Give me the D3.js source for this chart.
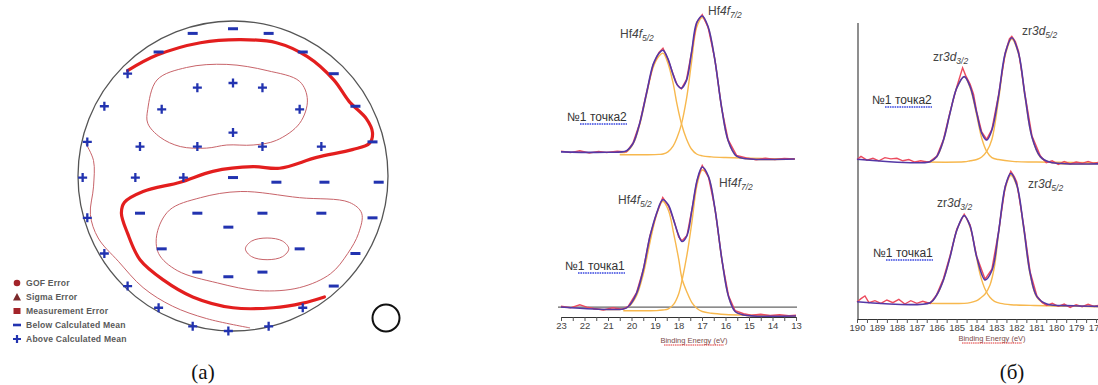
<!DOCTYPE html>
<html>
<head>
<meta charset="utf-8">
<script src="https://cdn.jsdelivr.net/npm/d3@7"></script>
<style>
  body { margin: 0; background: #fff; }
  svg { display: block; font-family: "Liberation Sans", Arial, sans-serif; }
</style>
</head>
<body>
<svg id="chart" width="1098" height="385"></svg>
<script>
// ---------- wafer map (a), coordinates in mm on a 200 mm wafer ----------
const belowMean = [[-26,92],[0,95],[23,92],[-48,80],[45,80],[65,66],[79,45],[90,22],
  [0,-1],[28,-4],[59,-4],[94,-4],[-60,-24],[-23,-24],[19,-24],[57,-24],[90,-27],
  [-3,-33],[-46,-47],[43,-47],[79,-50],[-23,-62],[-3,-65],[19,-62],[65,-71]];
const aboveMean = [[-68,66],[-23,57],[0,60],[19,57],[-83,45],[-46,43],[43,43],[0,28],
  [-94,22],[-60,19],[-23,19],[19,19],[57,19],[-97,-1],[-63,-1],[-32,-1],[-94,-27],
  [-83,-50],[-68,-71],[-48,-85],[45,-85],[-26,-97],[-3,-100],[23,-97]];
const meanContour = [[-68,68],[-49,78],[-21,86],[5,88],[28,86],[48,77],[65,62],[75,48],
  [86,37],[90,28],[88,21],[77,17],[54,12],[30,5],[13,6],[-13,3],[-34,-4],[-58,-10],
  [-70,-17],[-72,-24],[-68,-37],[-60,-54],[-45,-67],[-26,-78],[0,-85],[26,-85],[45,-82],[59,-78]];
const upperLoop = [[-55,43],[-49,62],[-30,70],[-4,72],[22,68],[43,61],[48,49],[43,34],
  [28,23],[13,20],[-4,20],[-17,18],[-34,19],[-47,25],[-55,34]];
const lowerLoop = [[5,-10],[43,-14],[75,-17],[83,-24],[81,-37],[74,-50],[63,-63],[43,-72],
  [17,-74],[-10,-69],[-36,-61],[-48,-50],[-49,-37],[-41,-22],[-21,-14]];
const innerLoop = [[8,-47],[12,-42],[22,-40],[32,-42],[36,-47],[32,-52],[22,-54],[12,-52]];
const edgeContour = [[-95,21],[-90,10],[-90,-7],[-92,-25],[-87,-40],[-74,-55],[-58,-72],
  [-39,-84],[-17,-92],[11,-98]];
const legendItems = ["GOF Error", "Sigma Error", "Measurement Error", "Below Calculated Mean", "Above Calculated Mean"];

// ---------- XPS spectra (b): binding energy (eV) and relative intensity ----------
// Hf 4f, point 2 (upper)
const hfUpE = [23.0,21.06,20.21,19.93,19.65,19.36,19.08,18.83,18.66,18.45,18.23,18.06,17.88,17.66,17.45,17.23,16.99,16.74,16.45,16.17,15.89,15.53,15.11,13.05];
const hfUpFit = [5,4.7,5.8,11,25,46,66,74,76,70,59,52,49.5,55,74,95,100,92.5,69,36.6,13,2,0.2,0];
const hfUpMeasE = [23.0,22.6,22.2,21.8,21.4,21.06,20.6,20.21,19.93,19.65,19.36,19.08,18.83,18.66,18.45,18.23,18.06,17.88,17.66,17.45,17.23,16.99,16.74,16.45,16.17,15.89,15.53,15.11,14.7,14.3,13.9,13.5,13.05];
const hfUpMeas = [5.5,4.5,5.8,4.2,5.3,4.5,5.5,5,11.5,25,46.5,66,74.5,77.5,70,59.5,52,49,55.5,74,95.5,101,92,69.5,36,13.5,2.5,0.8,-0.5,0.6,-0.3,0.4,0];
const hfUpC1E = [20.5,20.21,19.93,19.65,19.36,19.08,18.83,18.66,18.45,18.23,18.06,17.88,17.66,17.45,17.23,16.99,16.6,16.0,15.0,13.05];
const hfUpC1 = [4.5,5,10.5,24,45,64,72,74,67,53,38,25,14,7,3.5,2.2,1.5,1,0.5,0];
const hfUpC2E = [20.5,19.36,18.83,18.66,18.45,18.23,18.06,17.88,17.66,17.45,17.23,16.99,16.74,16.45,16.17,15.89,15.53,15.11,13.05];
const hfUpC2 = [3,3,3.2,3.5,5,9,15,24,42,67,92,99,92,69,36.6,13,2,0.2,0];

// Hf 4f, point 1 (lower)
const hfLowE = [23.0,21.63,20.35,20.14,19.79,19.5,19.22,18.93,18.67,18.43,18.2,17.99,17.85,17.64,17.43,17.21,16.99,16.72,16.44,16.15,15.87,15.59,15.23,13.0];
const hfLowFit = [6,4.7,4.7,6.2,15,31,53,69,78,74.5,64,54,50,54,71,91,100,93.5,71,37.6,13,3,0.7,0];
const hfLowMeasE = [23.0,22.6,22.2,21.9,21.6,21.2,20.8,20.4,20.14,19.79,19.5,19.22,18.93,18.67,18.43,18.2,17.99,17.85,17.64,17.43,17.21,16.99,16.72,16.44,16.15,15.87,15.59,15.23,14.9,14.5,14.1,13.7,13.3,13.0];
const hfLowMeas = [6.5,5.5,7.5,6,5,4,5.5,4.5,6.5,15.5,31,53.5,69,79.5,74,64.5,53,50.5,54,71.5,91,101,93,71.5,37,13.5,3.5,1.5,0.5,1.2,0.3,0.8,0.2,0.5];
const hfLowC1E = [21.63,20.35,20.14,19.79,19.5,19.22,18.93,18.67,18.43,18.2,17.99,17.85,17.64,17.43,17.21,16.99,16.6,16.0,15.0,13.0];
const hfLowC1 = [4.7,4.7,6,13.5,28,49,68,77,71,55,38,25,16,9,5,3,1.8,1,0.5,0];
const hfLowC2E = [20.35,19.5,18.93,18.67,18.43,18.2,17.99,17.85,17.64,17.43,17.21,16.99,16.72,16.44,16.15,15.87,15.59,15.23,13.0];
const hfLowC2 = [3.5,3.5,3.6,4,4.8,8,15,24,41,63,88,98,93,70.5,37.5,13,3,0.7,0];
const hfBaseLevel = 6;

// Zr 3d, point 2 (upper)
const zrUpE = [190,186.33,186.0,185.66,185.33,184.99,184.62,184.32,183.99,183.74,183.49,183.23,182.9,182.56,182.23,181.89,181.56,181.22,180.8,180.3,177.0];
const zrUpFit = [3.2,1.3,5.3,18.5,40,60,69,61,40,24,18.5,26.5,53,87.6,100,87.6,53,21,5.3,0.8,0];
const zrUpMeasE = [190,189.8,189.5,189.2,188.9,188.6,188.3,188.0,187.7,187.4,187.1,186.8,186.5,186.33,186.0,185.66,185.33,184.99,184.7,184.55,184.32,184.15,183.99,183.74,183.49,183.23,182.9,182.56,182.35,182.23,182.05,181.89,181.56,181.22,180.8,180.5,180.2,179.9,179.6,179.3,179.0,178.7,178.4,178.1,177.8,177.5,177.2];
const zrUpMeas = [3,5.5,2.5,4,2,4.5,3.5,4,2,3,1,2,1,1.5,5.5,19,41,61,76,70,63,55,41,25,19,27,54,88,99,101,97,89,54,22,6,0.5,2,-1,1.5,-0.5,1,0,1.5,0,1,0.5,0.8];
const zrUpC1E = [186.6,186.33,186.0,185.66,185.33,184.99,184.62,184.32,183.99,183.74,183.49,183.23,182.9,182.2,181.0,177.0];
const zrUpC1 = [1.5,1.5,5,18,40,60,69,60,38,20,9.5,4.5,3,1.5,1,0.3];
const zrUpC2E = [186.6,184.62,184.32,183.99,183.74,183.49,183.23,182.9,182.56,182.23,181.89,181.56,181.22,180.8,180.3,177.0];
const zrUpC2 = [1,1.2,2,3,5,9.5,19,50,86,99,87,52,21,5,0.8,0];

// Zr 3d, point 1 (lower)
const zrLowE = [190,186.33,186.0,185.66,185.33,184.99,184.62,184.32,183.99,183.57,183.23,182.9,182.56,182.28,181.98,181.64,181.31,180.97,180.47,179.13,177.0];
const zrLowFit = [3.7,3,8.7,20,37,57,68,60,37,20,27,55,89.5,99.5,91,60,25,7.5,2,0.7,0];
const zrLowMeasE = [190,189.8,189.6,189.4,189.1,188.8,188.5,188.2,187.9,187.6,187.3,187.0,186.7,186.33,186.0,185.66,185.33,184.99,184.62,184.32,183.99,183.57,183.23,182.9,182.56,182.28,182.1,181.98,181.64,181.31,180.97,180.7,180.47,180.2,179.9,179.6,179.3,179.0,178.7,178.4,178.1,177.8,177.5,177.2];
const zrLowMeas = [3.5,6,8,3,4.5,2.5,5,3,5.5,2,4.5,2.5,4,2.5,9,21,38,58,69,61,37.5,20.5,28,55.5,90,101,97,93,61,26,8,3,1,2.5,0.3,2,-0.5,1.5,0,1.8,0.2,1.2,0,1];
const zrLowC1E = [186.6,186.33,186.0,185.66,185.33,184.99,184.62,184.32,183.99,183.8,183.57,183.33,183.1,182.8,182.28,181.3,180.0,177.0];
const zrLowC1 = [3,3,8.5,20,37,57,68,59,36,23,13,7,4,2.5,1.5,1,0.5,0];
const zrLowC2E = [186.6,184.62,184.32,183.99,183.8,183.57,183.33,183.1,182.9,182.56,182.28,181.98,181.64,181.31,180.97,180.47,179.13,177.0];
const zrLowC2 = [2.5,2.5,3,4.5,6.5,9.5,16,30,54,88,98,90,59,24,7,1.5,0.5,0];

const hfTicks = d3.range(23, 12.9, -0.5);
const zrTicks = d3.range(190, 176.9, -0.5);

const svg = d3.select("#chart");
svg.append("rect").attr("width", 1098).attr("height", 385).attr("fill", "#fff");

// ================= wafer map =================
const wx = d3.scaleLinear().domain([-100, 100]).range([78, 388]);
const wy = d3.scaleLinear().domain([-100, 100]).range([331, 21]);
const wafer = svg.append("g");

wafer.append("circle")
  .attr("cx", wx(0)).attr("cy", wy(0)).attr("r", wx(100) - wx(0))
  .attr("fill", "none").attr("stroke", "#555").attr("stroke-width", 1.3);

const waferLine = d3.line().x(d => wx(d[0])).y(d => wy(d[1]));

wafer.append("path").datum(edgeContour)
  .attr("d", waferLine.curve(d3.curveCatmullRom)(edgeContour))
  .attr("fill", "none").attr("stroke", "#c8646a").attr("stroke-width", 1);

[upperLoop, lowerLoop, innerLoop].forEach(function(loop) {
  wafer.append("path")
    .attr("d", d3.line().x(d => wx(d[0])).y(d => wy(d[1])).curve(d3.curveCatmullRomClosed)(loop))
    .attr("fill", "none").attr("stroke", "#c8646a").attr("stroke-width", 1);
});

wafer.append("path")
  .attr("d", d3.line().x(d => wx(d[0])).y(d => wy(d[1])).curve(d3.curveCatmullRom)(meanContour))
  .attr("fill", "none").attr("stroke", "#e31e1e").attr("stroke-width", 3.2)
  .attr("stroke-linecap", "round");

const markBlue = "#2233b0";
wafer.selectAll(".minus").data(belowMean).enter().append("rect")
  .attr("x", d => wx(d[0]) - 5).attr("y", d => wy(d[1]) - 1.5)
  .attr("width", 10).attr("height", 3).attr("fill", markBlue);

const plus = wafer.selectAll(".plus").data(aboveMean).enter().append("path")
  .attr("d", d => "M" + (wx(d[0]) - 4.5) + "," + wy(d[1]) + "h9M" + wx(d[0]) + "," + (wy(d[1]) - 4.5) + "v9")
  .attr("stroke", markBlue).attr("stroke-width", 2.3);

// small orientation circle
wafer.append("circle").attr("cx", 386).attr("cy", 318).attr("r", 13.5)
  .attr("fill", "none").attr("stroke", "#111").attr("stroke-width", 2);

// legend
const legend = svg.append("g").attr("transform", "translate(17,283)");
legendItems.forEach(function(name, i) {
  const g = legend.append("g").attr("transform", "translate(0," + (i * 14) + ")");
  if (i === 0) g.append("circle").attr("r", 3.3).attr("fill", "#a3242a");
  if (i === 1) g.append("path").attr("d", "M0,-4L4,3.5L-4,3.5Z").attr("fill", "#7c2a2c");
  if (i === 2) g.append("rect").attr("x", -3.5).attr("y", -3).attr("width", 7).attr("height", 6).attr("fill", "#a3242a");
  if (i === 3) g.append("rect").attr("x", -4).attr("y", -1.3).attr("width", 8).attr("height", 2.6).attr("fill", markBlue);
  if (i === 4) g.append("path").attr("d", "M-4,0h8M0,-4v8").attr("stroke", markBlue).attr("stroke-width", 2.2);
  g.append("text").attr("x", 9).attr("y", 3)
    .attr("font-size", 8.6).attr("font-weight", "bold").attr("fill", "#5a5a5a")
    .attr("letter-spacing", 0.2)
    .text(name);
});

svg.append("text").attr("x", 203).attr("y", 379).attr("text-anchor", "middle")
  .attr("font-family", "Liberation Serif, Times New Roman, serif").attr("font-size", 21)
  .attr("fill", "#111").text("(а)");
svg.append("text").attr("x", 1012).attr("y", 379).attr("text-anchor", "middle")
  .attr("font-family", "Liberation Serif, Times New Roman, serif").attr("font-size", 21)
  .attr("fill", "#111").text("(б)");

// ================= XPS spectra =================
const colMeas = "#ec4b5e", colFit = "#5438a6", colComp = "#f7b84e";

function drawSpectrum(g, x, y, s) {
  const smooth = d3.line().x(d => x(d[0])).y(d => y(d[1])).curve(d3.curveCatmullRom);
  const rough = d3.line().x(d => x(d[0])).y(d => y(d[1]));
  g.append("path").attr("d", smooth(d3.zip(s.c1E, s.c1)))
    .attr("fill", "none").attr("stroke", colComp).attr("stroke-width", 1.4);
  g.append("path").attr("d", smooth(d3.zip(s.c2E, s.c2)))
    .attr("fill", "none").attr("stroke", colComp).attr("stroke-width", 1.4);
  g.append("path").attr("d", rough(d3.zip(s.measE, s.meas)))
    .attr("fill", "none").attr("stroke", colMeas).attr("stroke-width", 1.4);
  g.append("path").attr("d", smooth(d3.zip(s.fitE, s.fit)))
    .attr("fill", "none").attr("stroke", colFit).attr("stroke-width", 1.6);
}

function peakLabel(g, px, py, el, orb, sub) {
  const t = g.append("text").attr("x", px).attr("y", py)
    .attr("font-size", 12).attr("fill", "#444");
  t.append("tspan").text(el);
  t.append("tspan").attr("font-style", "italic").text(orb);
  t.append("tspan").attr("font-size", 8.5).attr("font-style", "italic").attr("dy", 3).text(sub);
}

function pointLabel(g, px, py, txt) {
  g.append("text").attr("x", px).attr("y", py)
    .attr("font-size", 12).attr("fill", "#333").text(txt);
  g.append("line").attr("x1", px + 13).attr("x2", px + 60)
    .attr("y1", py + 3).attr("y2", py + 3)
    .attr("stroke", "#3a48e0").attr("stroke-width", 1.4).attr("stroke-dasharray", "1.6 0.8");
}

function energyAxis(g, x, yPos, ticks, cx, ty) {
  const ax = g.append("g").attr("transform", "translate(0," + yPos + ")")
    .call(d3.axisBottom(x).tickValues(ticks)
      .tickFormat(d => (d % 1 === 0 ? d : ""))
      .tickSize(4).tickSizeOuter(0).tickPadding(1));
  ax.select(".domain").attr("stroke", "#333").attr("stroke-width", 1.2);
  ax.selectAll(".tick line").attr("stroke", "#555");
  ax.selectAll(".tick text").attr("font-size", 9.5).attr("fill", "#444")
    .attr("font-family", "Liberation Sans, Arial, sans-serif");
  g.append("text").attr("x", cx).attr("y", ty).attr("text-anchor", "middle")
    .attr("font-size", 7.5).attr("fill", "#7a4a4a").text("Binding Energy (eV)");
  g.append("line").attr("x1", cx - 30).attr("x2", cx + 30).attr("y1", ty + 2).attr("y2", ty + 2)
    .attr("stroke", "#e03030").attr("stroke-width", 1).attr("stroke-dasharray", "1.5 0.7");
}

// ---- Hf panel ----
const hfX = d3.scaleLinear().domain([23, 13]).range([561, 796]);
const hfUpY = d3.scaleLinear().domain([0, 100]).range([159, 16]);
const hfLowY = d3.scaleLinear().domain([0, 100]).range([316, 167]);
const hf = svg.append("g");

hf.append("line").attr("x1", hfX(23) - 3).attr("x2", hfX(13) + 1)
  .attr("y1", hfLowY(hfBaseLevel)).attr("y2", hfLowY(hfBaseLevel))
  .attr("stroke", "#666").attr("stroke-width", 1.2);

drawSpectrum(hf, hfX, hfUpY, { fitE: hfUpE, fit: hfUpFit, measE: hfUpMeasE, meas: hfUpMeas,
  c1E: hfUpC1E, c1: hfUpC1, c2E: hfUpC2E, c2: hfUpC2 });
drawSpectrum(hf, hfX, hfLowY, { fitE: hfLowE, fit: hfLowFit, measE: hfLowMeasE, meas: hfLowMeas,
  c1E: hfLowC1E, c1: hfLowC1, c2E: hfLowC2E, c2: hfLowC2 });
energyAxis(hf, hfX, 317, hfTicks, 694, 343);

peakLabel(hf, 620, 38, "Hf", "4f", "5/2");
peakLabel(hf, 708, 15, "Hf", "4f", "7/2");
peakLabel(hf, 618, 204, "Hf", "4f", "5/2");
peakLabel(hf, 719, 187, "Hf", "4f", "7/2");
pointLabel(hf, 567, 121, "№1  точка2");
pointLabel(hf, 565, 270, "№1  точка1");

// ---- Zr panel ----
const zrX = d3.scaleLinear().domain([190, 177]).range([857, 1116]);
const zrUpY = d3.scaleLinear().domain([0, 100]).range([163.3, 37.7]);
const zrLowY = d3.scaleLinear().domain([0, 100]).range([306.7, 172.7]);
const zr = svg.append("g");

zr.append("line").attr("x1", zrX(190) + 1).attr("x2", zrX(190) + 1).attr("y1", 23).attr("y2", 319)
  .attr("stroke", "#444").attr("stroke-width", 1.2);

drawSpectrum(zr, zrX, zrUpY, { fitE: zrUpE, fit: zrUpFit, measE: zrUpMeasE, meas: zrUpMeas,
  c1E: zrUpC1E, c1: zrUpC1, c2E: zrUpC2E, c2: zrUpC2 });
drawSpectrum(zr, zrX, zrLowY, { fitE: zrLowE, fit: zrLowFit, measE: zrLowMeasE, meas: zrLowMeas,
  c1E: zrLowC1E, c1: zrLowC1, c2E: zrLowC2E, c2: zrLowC2 });
energyAxis(zr, zrX, 319, zrTicks, 992, 341);

peakLabel(zr, 933, 61, "zr", "3d", "3/2");
peakLabel(zr, 1022, 35, "zr", "3d", "5/2");
peakLabel(zr, 937, 207, "zr", "3d", "3/2");
peakLabel(zr, 1028, 188, "zr", "3d", "5/2");
pointLabel(zr, 872, 104, "№1  точка2");
pointLabel(zr, 873, 257, "№1  точка1");
</script>
</body>
</html>
